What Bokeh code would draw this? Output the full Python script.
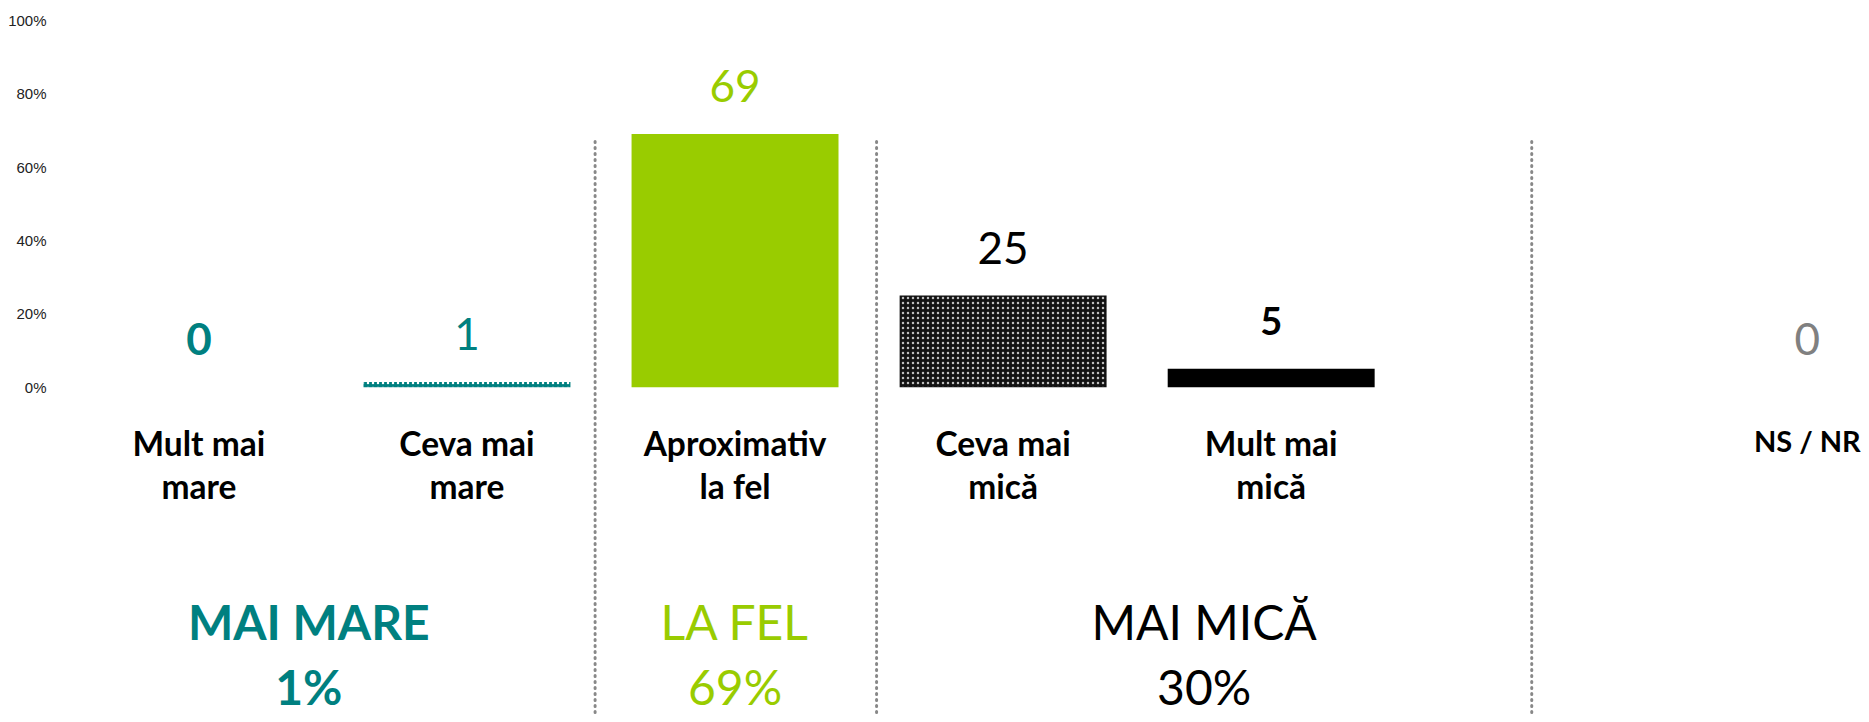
from bokeh.plotting import figure
from bokeh.models import Range1d, FixedTicker, PrintfTickFormatter, ColumnDataSource
from bokeh.core.properties import value
from bokeh.embed import file_html
from bokeh.resources import INLINE

# ---- data ----
categories = ["Mult mai\nmare", "Ceva mai\nmare", "Aproximativ\nla fel",
              "Ceva mai\nmică", "Mult mai\nmică", "", "NS / NR"]
values = [0, 1.4, 69, 25, 5, None, 0]
group_names = ["MAI MARE", "LA FEL", "MAI MICĂ"]
group_totals = [1, 69, 30]
y_ticks = [0, 20, 40, 60, 80, 100]

# ---- styles ----
TEAL, GREEN, BLACK, GRAY = "#008080", "#99CC00", "#000000", "#808080"
bar_fill = [TEAL, TEAL, GREEN, "#111111", BLACK, None, GRAY]
bar_hatch = [" ", "dot", " ", "dot", " ", None, " "]
bar_hatch_color = ["white", "white", "white", "#bdbdbd", "white", None, "white"]
lab_color = [TEAL, TEAL, GREEN, BLACK, BLACK, None, GRAY]
lab_style = ["bold", "normal", "normal", "normal", "bold", None, "normal"]
lab_size = ["44px", "44px", "44px", "44px", "38px", None, "44px"]
cat_size = ["33.5px", "33.5px", "33.5px", "33.5px", "33.5px", None, "29px"]
group_x = [0.41, 2.0, 3.75]
group_color = [TEAL, GREEN, BLACK]
group_style = ["bold", "normal", "normal"]
sep_x = [1.478, 2.528, 4.972]

idx = [i for i, v in enumerate(values) if v is not None]
src = ColumnDataSource(dict(
    x=idx,
    v=[values[i] for i in idx],
    lab=[f"{values[i]:.0f}" for i in idx],
    cat=[categories[i] for i in idx],
    fill=[bar_fill[i] for i in idx],
    hatch=[bar_hatch[i] for i in idx],
    hcol=[bar_hatch_color[i] for i in idx],
    lcol=[lab_color[i] for i in idx],
    lsty=[lab_style[i] for i in idx],
    lsz=[lab_size[i] for i in idx],
    csz=[cat_size[i] for i in idx],
))

p = figure(width=1861, height=714, output_backend="svg", toolbar_location=None,
           x_range=Range1d(-0.5237, 6.2021), y_range=Range1d(-89.23, 105.43),
           x_axis_location=None, min_border_left=58, min_border_right=0,
           min_border_top=0, min_border_bottom=0, outline_line_color=None)
p.xgrid.visible = False
p.ygrid.visible = False

p.yaxis.ticker = FixedTicker(ticks=y_ticks)
p.yaxis.formatter = PrintfTickFormatter(format="%d%%")
p.yaxis.axis_line_color = None
p.yaxis.major_tick_line_color = None
p.yaxis.minor_tick_line_color = None
p.yaxis.major_label_standoff = 6
p.yaxis.major_label_text_font = "Liberation Sans"
p.yaxis.major_label_text_font_size = "15px"
p.yaxis.major_label_text_color = "#222222"

# separators
p.segment(x0=sep_x, y0=67, x1=sep_x, y1=-95, line_color="#888888",
          line_width=3, line_dash="1 5", line_cap="round")

# bars
p.vbar(x="x", top="v", bottom=0, width=0.772, source=src, fill_color="fill",
       line_color=None, hatch_pattern="hatch", hatch_color="hcol",
       hatch_scale=5, hatch_weight=1.5)

# value labels
p.text(x="x", y="v", text="lab", source=src, text_align="center",
       text_baseline="alphabetic", y_offset=-48, text_color="lcol",
       text_font=value("Lato"), text_font_style="lsty", text_font_size="lsz")

# category labels
p.text(x="x", y=0, text="cat", source=src, text_align="center",
       text_baseline="top", y_offset=36, text_color=BLACK,
       text_font=value("Lato"), text_font_style="bold",
       text_font_size="csz", text_line_height=1.07)

# group labels
gsrc = ColumnDataSource(dict(x=group_x, name=group_names,
                             tot=[f"{t}%" for t in group_totals],
                             col=group_color, sty=group_style))
p.text(x="x", y=0, text="name", source=gsrc, text_align="center",
       text_baseline="alphabetic", y_offset=234, text_color="col",
       text_font=value("Lato"), text_font_style="sty", text_font_size="48px")
p.text(x="x", y=0, text="tot", source=gsrc, text_align="center",
       text_baseline="alphabetic", y_offset=299, text_color="col",
       text_font=value("Lato"), text_font_style="sty", text_font_size="48px")

open("out.html", "w").write(file_html(p, INLINE))
